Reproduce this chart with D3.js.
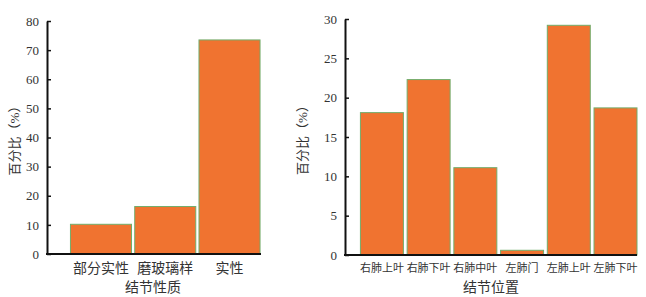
<!DOCTYPE html>
<html>
<head>
<meta charset="utf-8">
<script src="https://cdn.jsdelivr.net/npm/d3@7"></script>
<style>
  body { margin: 0; background: #fff; }
  svg text { font-family: "Liberation Serif", "Noto Sans CJK SC", serif; fill: #333; }
</style>
</head>
<body>
<svg id="chart" width="646" height="297"></svg>
<script>
// left panel: nodule type
const natureCats = ["部分实性", "磨玻璃样", "实性"];
const natureVals = [10.2, 16.3, 73.5];
const natureTicks = [0, 10, 20, 30, 40, 50, 60, 70, 80];

// right panel: nodule location
const siteCats = ["右肺上叶", "右肺下叶", "右肺中叶", "左肺门", "左肺上叶", "左肺下叶"];
const siteVals = [18.1, 22.3, 11.1, 0.6, 29.2, 18.7];
const siteTicks = [0, 5, 10, 15, 20, 25, 30];

const svg = d3.select("#chart");
const barFill = "#f07330";
const barEdge = "#72ad6c";

function drawPanel(opts) {
  const g = svg.append("g");
  const x = d3.scaleLinear().domain(opts.xDomain).range(opts.xRange);
  const y = d3.scaleLinear().domain(opts.yDomain).range(opts.yRange);
  const w = x(opts.barWidth) - x(0);

  g.selectAll("rect")
    .data(opts.vals)
    .enter()
    .append("rect")
    .attr("x", (d, i) => x(i + 1) - w / 2)
    .attr("y", (d) => y(d))
    .attr("width", w)
    .attr("height", (d) => y(0) - y(d))
    .attr("fill", barFill)
    .attr("stroke", barEdge)
    .attr("stroke-width", 1);

  // y axis with inward ticks
  const yAxis = d3.axisLeft(y).tickValues(opts.ticks).tickSizeInner(-4).tickSizeOuter(0).tickPadding(8);
  const ya = g.append("g").attr("transform", `translate(${opts.xRange[0]},0)`).call(yAxis);
  ya.select(".domain").attr("stroke", "#111").attr("stroke-width", 2);
  ya.selectAll(".tick line").attr("stroke", "#111").attr("stroke-width", 1.5);
  ya.selectAll(".tick text").attr("font-size", 13).style("fill", "#333");

  // x baseline
  g.append("line")
    .attr("x1", opts.xRange[0] - 1).attr("x2", opts.xRange[1])
    .attr("y1", y(0)).attr("y2", y(0))
    .attr("stroke", "#111").attr("stroke-width", 2);

  g.selectAll("text.cat")
    .data(opts.cats)
    .enter()
    .append("text")
    .attr("class", "cat")
    .attr("x", (d, i) => x(i + 1))
    .attr("y", opts.catY)
    .attr("text-anchor", "middle")
    .attr("font-size", opts.catSize)
    .text((d) => d);

  g.append("text")
    .attr("x", opts.titleX)
    .attr("y", opts.titleY)
    .attr("text-anchor", "middle")
    .attr("font-size", 14)
    .text(opts.xTitle);

  g.append("text")
    .attr("transform", `translate(${opts.yTitleX},${(opts.yRange[0] + opts.yRange[1]) / 2}) rotate(-90)`)
    .attr("text-anchor", "middle")
    .attr("font-size", 13)
    .text("百分比（%）");
}

drawPanel({
  cats: natureCats, vals: natureVals, ticks: natureTicks,
  xDomain: [0.16, 3.49], xRange: [47, 261],
  yDomain: [0, 80], yRange: [254, 21],
  barWidth: 0.95, catY: 273, catSize: 14,
  xTitle: "结节性质", titleX: 153, titleY: 292, yTitleX: 19
});

drawPanel({
  cats: siteCats, vals: siteVals, ticks: siteTicks,
  xDomain: [0.21, 6.46], xRange: [345, 637],
  yDomain: [0, 30], yRange: [255, 19],
  barWidth: 0.92, catY: 272, catSize: 11,
  xTitle: "结节位置", titleX: 491, titleY: 292, yTitleX: 307
});
</script>
</body>
</html>
